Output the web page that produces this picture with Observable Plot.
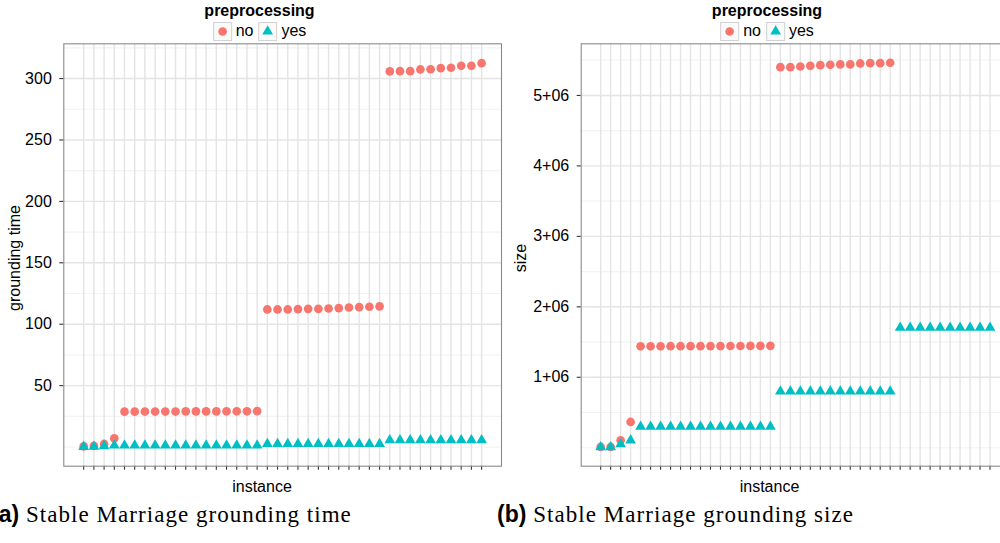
<!DOCTYPE html>
<html><head><meta charset="utf-8">
<script src="https://cdn.jsdelivr.net/npm/d3@7"></script>
<script src="https://cdn.jsdelivr.net/npm/@observablehq/plot@0.6"></script>
<style>
html,body{margin:0;padding:0;width:1000px;height:543px;overflow:hidden;background:#fff;}
#root{position:relative;width:1000px;height:543px;font-family:"Liberation Sans",Arial,sans-serif;color:#000;overflow:hidden;}
.abs{position:absolute;white-space:nowrap;}
.ttl{font-size:16px;line-height:16px;}
.cap{font-size:23px;line-height:23px;}
.cap b{font-family:"Liberation Sans",Arial,sans-serif;font-weight:bold;}
.cap span{font-family:"Liberation Serif","Times New Roman",serif;letter-spacing:1.05px;}
.lg{display:flex;align-items:center;font-size:16px;line-height:18px;}
.box{width:17px;height:17px;border:1px solid #d2d2d2;background:#fafafa;display:block;}
</style></head>
<body><div id="root"></div>
<script>
// ---- data ----
const instances = [1,2,3,4,5,6,7,8,9,10,11,12,13,14,15,16,17,18,19,20,21,22,23,24,25,26,27,28,29,30,31,32,33,34,35,36,37,38,39,40];
const groups = ["no", "yes"];
const groupColors = ["#F8766D", "#00BFC4"];
const groupSymbols = ["circle", "triangle"];

// grounding time (panel a)
const timeNo = [0.5,1.0,2.5,7.0,
  28.8,28.8,28.9,28.9,28.9,28.9,29.0,29.0,29.0,29.0,29.1,29.1,29.1,29.2,
  112.0,112.0,112.0,112.3,112.5,112.5,112.8,113.1,113.6,113.9,114.2,114.5,
  305.8,306.0,306.0,307.4,307.6,308.5,308.8,310.4,310.4,312.5];
const timeYes = [0.2,0.3,0.8,1.3,
  1.3,1.3,1.3,1.3,1.3,1.3,1.3,1.3,1.3,1.3,1.3,1.3,1.3,1.3,
  2.6,2.6,2.6,2.6,2.6,2.6,2.6,2.6,2.6,2.6,2.6,2.6,
  5.6,5.6,5.6,5.6,5.6,5.6,5.6,5.6,5.6,5.6];
const timeTicks = [50,100,150,200,250,300];
const timeTickLabels = ["50","100","150","200","250","300"];
const timeMinor = [0,25,75,125,175,225,275,325];

// grounding size (panel b)
const sizeNo = [11000,11000,106000,366000,
  1440000,1440000,1440000,1441000,1441000,1442000,1442000,1443000,1443000,1444000,1444000,1445000,1445000,1446000,
  5401000,5401000,5411000,5421000,5430000,5435000,5440000,5440000,5454000,5458000,5458000,5464000,
  null,null,null,null,null,null,null,null,null,null];
const sizeYes = [7000,7000,50000,106000,
  300000,300000,300000,300000,300000,300000,300000,300000,300000,300000,300000,300000,300000,300000,
  800000,800000,800000,800000,800000,800000,800000,800000,800000,800000,800000,800000,
  1704000,1704000,1704000,1704000,1704000,1704000,1704000,1704000,1704000,1704000];
const sizeTicks = [1e6,2e6,3e6,4e6,5e6];
const sizeTickLabels = ["1+06","2+06","3+06","4+06","5+06"];
const sizeMinor = [0,5e5,1.5e6,2.5e6,3.5e6,4.5e6,5.5e6];

const root = document.getElementById("root");

function rowsOf(seriesList) {
  const rows = [];
  groups.forEach((g, gi) => seriesList[gi].forEach((v, i) => {
    if (v != null) rows.push({instance: instances[i], value: v, pre: g});
  }));
  return rows;
}

function panel({series, ticks, labels, minor, yDomain, width, marginLeft, marginRight}) {
  const rows = rowsOf(series);
  return Plot.plot({
    width, height: 430,
    marginTop: 1.3, marginBottom: 6.3, marginLeft, marginRight,
    x: {type: "linear", domain: [-0.95, 41.95], label: null},
    y: {domain: yDomain, label: null},
    color: {domain: groups, range: groupColors},
    symbol: {domain: groups, range: groupSymbols},
    style: {background: "transparent", overflow: "visible", fontFamily: "Liberation Sans, Arial, sans-serif", fontSize: "16px", color: "#000"},
    marks: [
      Plot.ruleY(minor, {stroke: "#f3f3f3", strokeWidth: 1.2}),
      Plot.ruleY(ticks, {stroke: "#e4e4e4", strokeWidth: 1.4}),
      Plot.ruleX(instances, {stroke: "#e4e4e4", strokeWidth: 1.4}),
      Plot.axisX(instances, {tickSize: 4, tickFormat: () => "", label: null, stroke: "#333", strokeWidth: 1.1}),
      Plot.axisY(ticks, {tickSize: 4, tickPadding: 8, label: null, tickFormat: d => labels[ticks.indexOf(d)], stroke: "#333", strokeWidth: 1.1, fill: "#000", fontSize: 16}),
      Plot.dot(rows.filter(r => r.pre === "no"), {x: "instance", y: "value", fill: "pre", symbol: "pre", r: 4.35}),
      Plot.dot(rows.filter(r => r.pre === "yes"), {x: "instance", y: "value", fill: "pre", symbol: "pre", r: 4.0}),
      Plot.frame({stroke: "#8a8a8a", strokeWidth: 1.1})
    ]
  });
}

function place(el, left, top) {
  el.style.position = "absolute";
  el.style.left = left + "px";
  el.style.top = top + "px";
  root.appendChild(el);
}

const pa = panel({series: [timeNo, timeYes], ticks: timeTicks, labels: timeTickLabels, minor: timeMinor,
  yDomain: [-15.6, 328.3], width: 505, marginLeft: 63.3, marginRight: 4});
place(pa, 0, 42);

const pb = panel({series: [sizeNo, sizeYes], ticks: sizeTicks, labels: sizeTickLabels, minor: sizeMinor,
  yDomain: [-262000, 5733000], width: 496, marginLeft: 63.7, marginRight: 4});
place(pb, 517, 42);

function text(str, cx, cy, cls, rotate, bold) {
  const d = document.createElement("div");
  d.className = "abs " + cls;
  d.textContent = str;
  d.style.left = cx + "px";
  d.style.top = cy + "px";
  d.style.transform = "translate(-50%,-50%)" + (rotate ? " rotate(-90deg)" : "");
  if (bold) d.style.fontWeight = "bold";
  root.appendChild(d);
}

// axis titles
text("grounding time", 14.5, 258, "ttl", true);
text("size", 521, 258, "ttl", true);
text("instance", 262, 487.4, "ttl");
text("instance", 769.5, 487.4, "ttl");

// legends
function swatch(gi) {
  const ns = "http://www.w3.org/2000/svg";
  const s = document.createElementNS(ns, "svg");
  s.setAttribute("width", 17); s.setAttribute("height", 17);
  s.style.display = "block";
  const p = document.createElementNS(ns, "path");
  const r = gi === 0 ? 4.35 : 4.0;
  const sym = gi === 0 ? d3.symbolCircle : d3.symbolTriangle;
  p.setAttribute("d", d3.symbol(sym, Math.PI * r * r)());
  p.setAttribute("transform", "translate(8.5,8.5)");
  p.setAttribute("fill", groupColors[gi]);
  s.appendChild(p);
  const b = document.createElement("span");
  b.className = "box";
  b.appendChild(s);
  return b;
}
function legend(cx) {
  text("preprocessing", cx, 10.6, "ttl", false, true);
  const row = document.createElement("div");
  row.className = "abs lg";
  groups.forEach((g, gi) => {
    const sw = swatch(gi);
    sw.style.marginLeft = gi === 0 ? "0px" : "5px";
    row.appendChild(sw);
    const t = document.createElement("span");
    t.textContent = g;
    t.style.marginLeft = "4px";
    row.appendChild(t);
  });
  row.style.left = cx + "px";
  row.style.top = "21.5px";
  row.style.transform = "translateX(-50%)";
  root.appendChild(row);
}
legend(259.5);
legend(767);

// captions
function caption(letter, title, left) {
  const d = document.createElement("div");
  d.className = "abs cap";
  d.style.left = left + "px";
  d.style.top = "503px";
  const b = document.createElement("b");
  b.textContent = "(" + letter + ")";
  const s = document.createElement("span");
  s.textContent = " " + title;
  d.appendChild(b); d.appendChild(s);
  root.appendChild(d);
}
caption("a", "Stable Marriage grounding time", -9);
caption("b", "Stable Marriage grounding size", 497);
</script>
</body></html>
